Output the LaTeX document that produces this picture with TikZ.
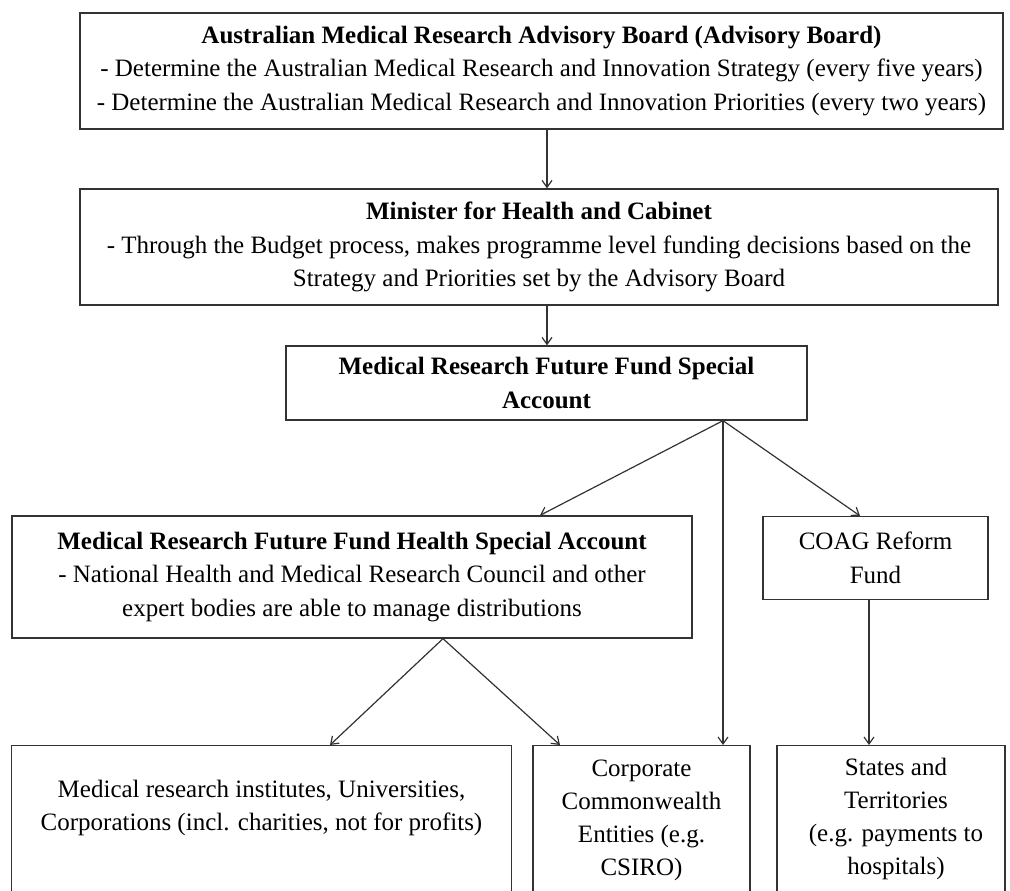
\documentclass[tikz,border=0pt]{standalone}
\usepackage{fontspec}
\setmainfont{Liberation Serif}
\usetikzlibrary{arrows.meta}
\definecolor{boxline}{HTML}{333333}
\begin{document}
\begin{tikzpicture}[x=1pt,y=-1pt,
  box/.style={draw=boxline, line width=1.3pt, fill=white, align=center, inner sep=0pt,
    font=\fontsize{25}{33.5}\selectfont},
  txt/.style={align=center, inner sep=0pt, font=\fontsize{25}{33}\selectfont},
  arr/.style={draw=boxline, line width=1.2pt, -{Straight Barb[length=7pt,width=10pt]}}]
\useasboundingbox (0,0) rectangle (1010,891);
\clip (0,0) rectangle (1010,891);
\node[box, minimum width=923pt, minimum height=116pt] (b1) at (541.5,71)
  {\textbf{Australian Medical Research Advisory Board (Advisory Board)}\\
   - Determine the Australian Medical Research and Innovation Strategy (every five years)\\
   - Determine the Australian Medical Research and Innovation Priorities (every two years)};
\node[box, minimum width=918pt, minimum height=116pt] (b2) at (539,247)
  {\textbf{Minister for Health and Cabinet}\\
   - Through the Budget process, makes programme level funding decisions based on the\\
   Strategy and Priorities set by the Advisory Board};
\node[box, minimum width=521pt, minimum height=74pt] (b3) at (546.5,383)
  {\textbf{Medical Research Future Fund Special}\\ \textbf{Account}};
\node[box, minimum width=680pt, minimum height=122pt] (b4) at (352,577)
  {\textbf{Medical Research Future Fund Health Special Account}\\
   - National Health and Medical Research Council and other\\
   expert bodies are able to manage distributions};
\node[box, minimum width=225pt, minimum height=83pt] (coag) at (875.5,558)
  {COAG Reform\\Fund};
\node[box, anchor=north, minimum width=500pt, minimum height=300pt] (b5) at (261.5,745) {};
\node[txt] (t5) at (261.5,808)
  {Medical research institutes, Universities,\\Corporations (incl. charities, not for profits)};
\node[box, anchor=north, minimum width=217pt, minimum height=300pt] (b6) at (641.5,745) {};
\node[txt] (t6) at (641.5,820)
  {Corporate\\Commonwealth\\Entities (e.g.\\CSIRO)};
\node[box, anchor=north, minimum width=228pt, minimum height=300pt] (b7) at (891,745) {};
\node[txt] (t7) at (896,819)
  {States and\\Territories\\(e.g. payments to\\hospitals)};
\draw[arr] (b1.south -| 547,0) -- (b2.north -| 547,0);
\draw[arr] (b2.south -| 547,0) -- (b3.north -| 547,0);
\coordinate (s3) at (b3.south -| 723,0);
\draw[arr] (s3) -- (b4.north -| 540,0);
\draw[arr] (s3) -- (b6.north -| 723,0);
\draw[arr] (s3) -- (coag.north -| 860,0);
\coordinate (s4) at (b4.south -| 443,0);
\draw[arr] (s4) -- (b5.north -| 330,0);
\draw[arr] (s4) -- (b6.north -| 560,0);
\draw[arr] (coag.south -| 869,0) -- (b7.north -| 869,0);
\end{tikzpicture}
\end{document}
